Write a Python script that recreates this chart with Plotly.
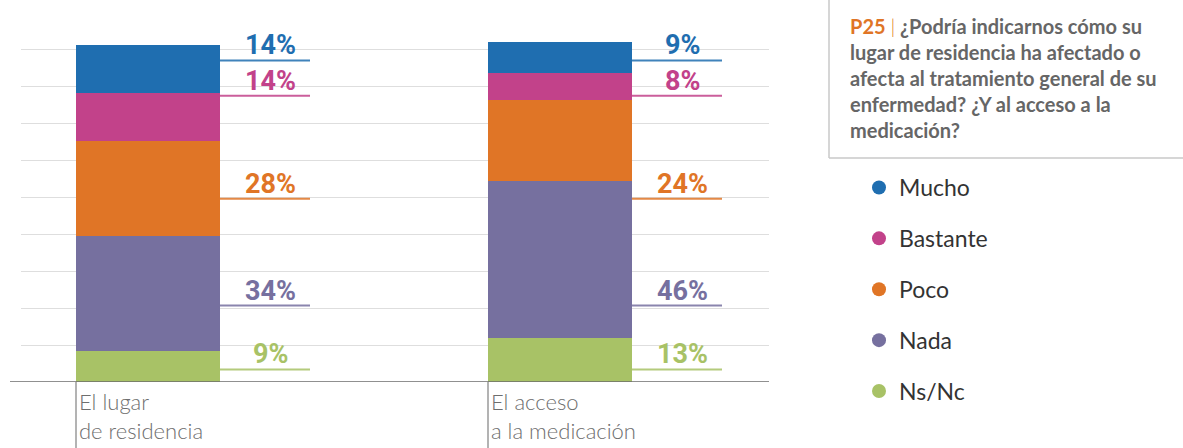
import plotly.graph_objects as go

# ---- data ----
categories = ["El lugar<br>de residencia", "El acceso<br>a la medicación"]
series_names = ["Mucho", "Bastante", "Poco", "Nada", "Ns/Nc"]
mucho = [14, 9]
bastante = [14, 8]
poco = [28, 24]
nada = [34, 46]
ns_nc = [9, 13]

colors = {
    "Mucho": "#1f6eb0",
    "Bastante": "#c2428a",
    "Poco": "#e07526",
    "Nada": "#76709f",
    "Ns/Nc": "#a8c266",
}
values = {"Mucho": mucho, "Bastante": bastante, "Poco": poco, "Nada": nada, "Ns/Nc": ns_nc}

# fixed label slots (y units) for the value labels beside each bar
label_slot = {"Mucho": 94.6, "Bastante": 84.2, "Poco": 53.9, "Nada": 22.5, "Ns/Nc": 3.7}

# ---- layout geometry ----
W, H = 1183, 448
PL, PR, PT, PB = 21, 769, 12, 382
PX_PER_UNIT = 3.4
Y_TOP = (PB - PT) / PX_PER_UNIT
X_UNIT = 412.0           # pixels between the two bar centres
BAR_W = 144 / X_UNIT
x_pos = list(range(len(categories)))
x0_pix = 148
x_range = [(PL - x0_pix) / X_UNIT, (PR - x0_pix) / X_UNIT]


def paper_x(px):
    return (px - PL) / (PR - PL)


def paper_y(py):
    return (PB - py) / (PB - PT)


fig = go.Figure()

# stacked bars, bottom to top
for name in ["Ns/Nc", "Nada", "Poco", "Bastante", "Mucho"]:
    fig.add_trace(go.Bar(
        x=x_pos, y=values[name], width=BAR_W, name=name,
        marker=dict(color=colors[name], line=dict(width=0)),
        showlegend=False, hoverinfo="skip",
    ))

# legend entries with round markers
for name in series_names:
    fig.add_trace(go.Scatter(
        x=[None], y=[None], mode="markers", name=name, legendgroup=name,
        marker=dict(color=colors[name], size=14, symbol="circle"),
    ))

shapes = []
annotations = []

# value labels with underline
for i in x_pos:
    right = i + BAR_W / 2
    for name in series_names:
        ys = label_slot[name]
        shapes.append(dict(
            type="line", xref="x", yref="y", x0=right, x1=right + 90 / X_UNIT,
            y0=ys, y1=ys, line=dict(color=colors[name], width=2), opacity=0.85, layer="above",
        ))
        annotations.append(dict(
            x=right, y=ys, xref="x", yref="y", xanchor="center", yanchor="bottom",
            xshift=50, yshift=-3, showarrow=False, text=f"{values[name][i]}%",
            font=dict(family="Roboto", size=27, color=colors[name], weight="bold"),
        ))
    # category label and tick line at the bar's left edge
    left = i - BAR_W / 2
    shapes.append(dict(
        type="line", xref="x", yref="paper", x0=left, x1=left,
        y0=0, y1=paper_y(H + 2), line=dict(color="#9a9a9a", width=1.5),
    ))
    annotations.append(dict(
        x=left, y=0, xref="x", yref="y", xanchor="left", yanchor="top",
        xshift=1, yshift=-4, showarrow=False, align="left", text=categories[i],
        font=dict(family="Lato", size=22, color="#6e6e6e", weight=300),
    ))

# base line
shapes.append(dict(
    type="line", xref="paper", yref="y", x0=paper_x(10), x1=1, y0=0, y1=0,
    line=dict(color="#6b6b6b", width=1.5), layer="above",
))

# question box
shapes.append(dict(
    type="line", xref="paper", yref="paper", x0=paper_x(829), x1=paper_x(829),
    y0=paper_y(0), y1=paper_y(158), line=dict(color="#c8c8c8", width=1.5),
))
shapes.append(dict(
    type="line", xref="paper", yref="paper", x0=paper_x(829), x1=paper_x(W + 2),
    y0=paper_y(158), y1=paper_y(158), line=dict(color="#c8c8c8", width=1.5),
))
annotations.append(dict(
    x=paper_x(848), y=paper_y(12), xref="paper", yref="paper",
    xanchor="left", yanchor="top", showarrow=False, align="left",
    text=("<span style='color:#e07526'>P25</span> "
          "<span style='color:#e07526;font-weight:300'>|</span> "
          "¿Podría indicarnos cómo su<br>lugar de residencia ha afectado o<br>"
          "afecta al tratamiento general de su<br>enfermedad? ¿Y al acceso a la<br>"
          "medicación?"),
    font=dict(family="Lato", size=20, color="#666666", weight="bold"),
))

fig.update_layout(
    width=W, height=H,
    margin=dict(l=PL, r=W - PR, t=PT, b=H - PB, pad=0),
    paper_bgcolor="white", plot_bgcolor="white",
    barmode="stack", bargap=0,
    xaxis=dict(range=x_range, showgrid=False, zeroline=False, showticklabels=False,
               showline=False, fixedrange=True),
    yaxis=dict(range=[0, Y_TOP + 0.01], tick0=0, dtick=Y_TOP / 10, showgrid=True,
               gridcolor="#dedede", gridwidth=1, zeroline=False, showticklabels=False,
               showline=False, fixedrange=True),
    legend=dict(
        x=paper_x(859), y=paper_y(166), xanchor="left", yanchor="top",
        font=dict(family="Lato", size=23, color="#333333", weight="normal"),
        tracegroupgap=18, bgcolor="rgba(0,0,0,0)",
    ),
    shapes=shapes,
    annotations=annotations,
    font=dict(family="Roboto"),
)

fig.write_html("out.html", config={"displayModeBar": False})
